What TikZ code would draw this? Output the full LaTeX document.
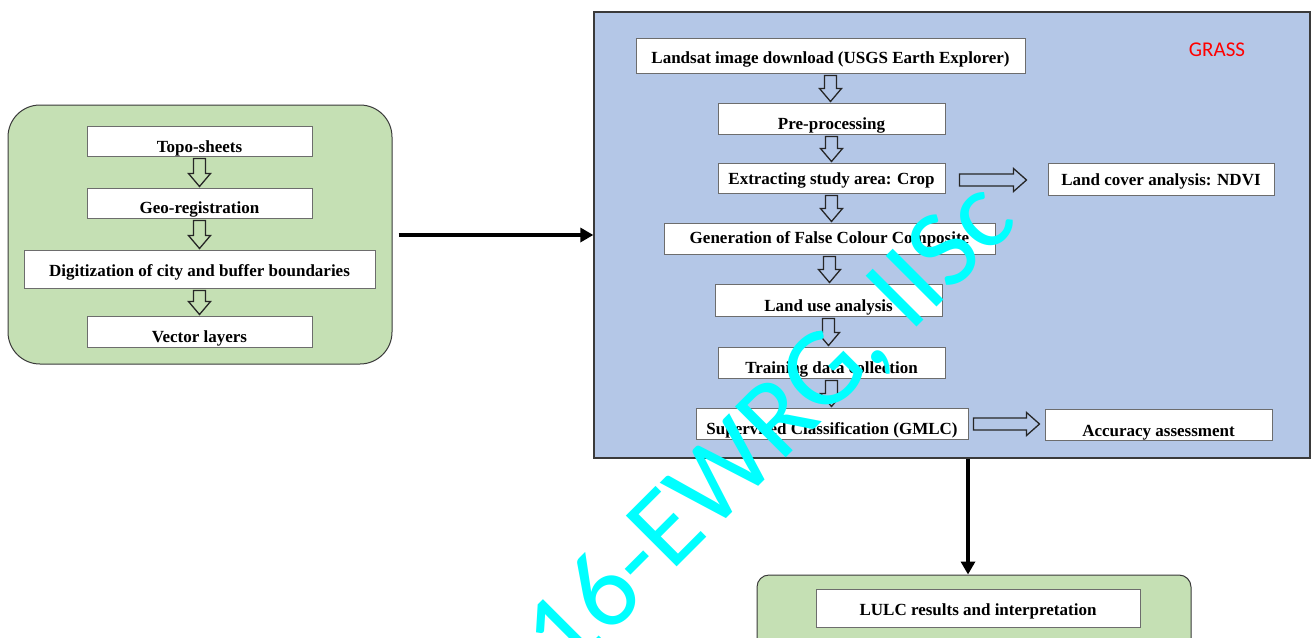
\documentclass[tikz,border=0pt]{standalone}
\usepackage{fontspec}
\setmainfont{Liberation Serif}
\newfontfamily\wmfont{Carlito}
\usetikzlibrary{calc,arrows.meta}
\definecolor{bluefill}{HTML}{B4C7E7}
\definecolor{greenfill}{HTML}{C5E0B4}
\definecolor{boxgray}{HTML}{6D6D6D}
\definecolor{frame}{HTML}{3A3A3A}
\definecolor{grassred}{HTML}{FF0000}
\definecolor{wmcyan}{HTML}{00FFFF}
\tikzset{
  wbox/.style={draw=boxgray, fill=white, line width=1, inner sep=0,
    font=\bfseries\fontsize{17}{20}\selectfont, text depth=0pt},
  tb/.style={text height=#1},
  greenpanel/.style={draw=frame, fill=greenfill, line width=1, inner sep=0},
  bluepanel/.style={draw=frame, fill=bluefill, line width=1.3, inner sep=0},
  hollow/.style={draw=black!85, line width=1.3, line join=miter},
  bigarrow/.style={line width=3.5, -{Triangle[length=13,width=14]}},
  wm/.style={text=wmcyan, inner sep=0, font=\wmfont\fontsize{112}{120}\selectfont},
}
\newcommand\vhol[2]{%
  \draw[hollow] ($(#1.south)+(-6,2)$) -- ($(#1.south)+(6,2)$)
    -- ($(#1.south |- #2.north)+(6,-14)$) -- ($(#1.south |- #2.north)+(11,-14)$)
    -- ($(#1.south |- #2.north)+(0,-1)$) -- ($(#1.south |- #2.north)+(-11,-14)$)
    -- ($(#1.south |- #2.north)+(-6,-14)$) -- cycle;}
\newcommand\hhol[2]{%
  \draw[hollow] ($(#1)+(0,-6)$) -- ($(#2)+(-13,-6)$) -- ($(#2)+(-13,-11.5)$)
    -- (#2) -- ($(#2)+(-13,11.5)$) -- ($(#2)+(-13,6)$) -- ($(#1)+(0,6)$) -- cycle;}
\begin{document}
\begin{tikzpicture}[x=1pt,y=-1pt]
\useasboundingbox (0,0) rectangle (1314,637);
\clip (0,0) rectangle (1314,637);
\fill[white] (0,0) rectangle (1314,637);

% left panel
\node[greenpanel, rounded corners=32, minimum width=384, minimum height=259] (lgreen) at (200,234.5) {};
\node[wbox, tb=22, minimum width=225, minimum height=30] (topo) at (199.5,141) {Topo-sheets};
\node[wbox, tb=20, minimum width=225, minimum height=30] (geo) at (199.5,203) {Geo-registration};
\node[wbox, tb=14, minimum width=351, minimum height=38] (dig) at (199.5,269) {Digitization of city and buffer boundaries};
\node[wbox, tb=21, minimum width=225, minimum height=31] (vec) at (199.5,331.5) {Vector layers};
\vhol{topo}{geo}
\vhol{geo}{dig}
\vhol{dig}{vec}

% blue panel
\node[bluepanel, minimum width=716, minimum height=446] (blue) at (952,235) {};
\node[text=grassred, inner sep=0, font=\wmfont\fontsize{21}{24}\selectfont] (grass) at (1217,50) {GRASS};
\node[wbox, tb=15, minimum width=389, minimum height=35] (land) at (830.5,55.5) {Landsat image download (USGS Earth Explorer)};
\node[wbox, tb=21, minimum width=227, minimum height=31] (pre) at (831.5,118.5) {Pre-processing};
\node[wbox, tb=12, minimum width=227, minimum height=30] (ext) at (831.5,178) {Extracting study area: Crop};
\node[wbox, tb=9, minimum width=331, minimum height=31] (fcc) at (829.5,238.5) {Generation of False Colour Composite};
\node[wbox, tb=22, minimum width=227, minimum height=32] (luse) at (828.5,300) {Land use analysis};
\node[wbox, tb=21, minimum width=227, minimum height=31] (train) at (831.5,362.5) {Training data collection};
\node[wbox, tb=21, minimum width=272, minimum height=31] (gmlc) at (832,423.5) {Supervised Classification (GMLC)};
\node[wbox, tb=12, minimum width=226, minimum height=32] (ndvi) at (1161,179) {Land cover analysis: NDVI};
\node[wbox, tb=23, minimum width=227, minimum height=31] (acc) at (1158.5,424.5) {Accuracy assessment};
\vhol{land}{pre}
\vhol{pre}{ext}
\vhol{ext}{fcc}
\vhol{fcc}{luse}
\vhol{luse}{train}
\vhol{train}{gmlc}
\coordinate (e1) at ($(ext.east)+(14,2)$);
\coordinate (e2) at ($(ndvi.west)+(-21,1)$);
\hhol{e1}{e2}
\coordinate (g1) at ($(gmlc.east)+(5,0.5)$);
\coordinate (g2) at ($(acc.west)+(-5,-0.5)$);
\hhol{g1}{g2}

% bottom panel
\node[greenpanel, rounded corners=12, minimum width=434, minimum height=75] (lulcg) at (974,612.5) {};
\node[wbox, tb=14, minimum width=324, minimum height=38] (lulc) at (978,608) {LULC results and interpretation};

% connectors
\coordinate (a1) at ($(lgreen.east)+(6,0.5)$);
\draw[bigarrow] (a1) -- (a1 -| blue.west);
\coordinate (d1) at ($(blue.south)+(16,0)$);
\draw[bigarrow] (d1) -- (d1 |- lulcg.north);

% watermark
\node[wm, rotate=45] (wmark) at (772,429) {16-EWRG, IISc};
\end{tikzpicture}
\end{document}
